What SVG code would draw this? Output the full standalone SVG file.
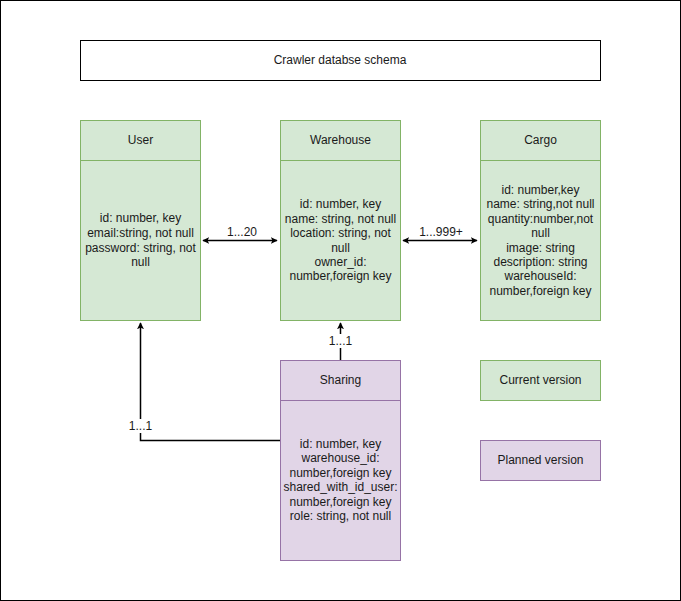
<svg xmlns="http://www.w3.org/2000/svg" width="681" height="601" viewBox="0 0 681 601">
<style>
text{font-family:"Liberation Sans",Arial,sans-serif;font-size:12px;fill:#1a1a1a;text-anchor:middle;dominant-baseline:central}
.g{fill:#d5e8d4;stroke:#82b366;stroke-width:1}
.p{fill:#e1d5e7;stroke:#9673a6;stroke-width:1}
.w{fill:#fff;stroke:#000;stroke-width:1}
.e{fill:none;stroke:#000;stroke-width:1.5}
.lb{fill:#fff}
</style>
<defs>
<marker id="ah" viewBox="0 0 10 10" refX="9" refY="5" markerWidth="7" markerHeight="7" orient="auto-start-reverse" markerUnits="userSpaceOnUse">
<path d="M0,0 L10,5 L0,10 L2.5,5 Z" fill="#000"/>
</marker>
</defs>
<rect x="0.5" y="0.5" width="680" height="600" fill="#fff" stroke="#000"/>
<g id="title">
<rect class="w" x="80.5" y="40.5" width="520" height="40"/>
<text x="340" y="60">Crawler databse schema</text>
</g>
<g id="connectors">
<line class="e" x1="203" y1="240.5" x2="277" y2="240.5" marker-start="url(#ah)" marker-end="url(#ah)"/>
<rect class="lb" x="226" y="225" width="32" height="14"/>
<text x="242" y="232">1...20</text>
<line class="e" x1="403" y1="240.5" x2="477" y2="240.5" marker-start="url(#ah)" marker-end="url(#ah)"/>
<rect class="lb" x="419" y="225" width="44" height="14"/>
<text x="441" y="232">1...999+</text>
<line class="e" x1="340.5" y1="360" x2="340.5" y2="323" marker-end="url(#ah)"/>
<rect class="lb" x="328" y="334" width="26" height="14"/>
<text x="340.5" y="341">1...1</text>
<polyline class="e" points="280,440.5 140.5,440.5 140.5,323" marker-end="url(#ah)"/>
<rect class="lb" x="128" y="419" width="26" height="14"/>
<text x="140.5" y="426">1...1</text>
</g>
<g id="user">
<rect class="g" x="80.5" y="120.5" width="120" height="200"/>
<line x1="80.5" y1="160.5" x2="200.5" y2="160.5" stroke="#82b366"/>
<text x="140.5" y="140">User</text>
<text x="140.5" y="218">id: number, key</text>
<text x="140.5" y="233">email:string, not null</text>
<text x="140.5" y="248">password: string, not</text>
<text x="140.5" y="262">null</text>
</g>
<g id="warehouse">
<rect class="g" x="280.5" y="120.5" width="120" height="200"/>
<line x1="280.5" y1="160.5" x2="400.5" y2="160.5" stroke="#82b366"/>
<text x="340.5" y="140">Warehouse</text>
<text x="340.5" y="204">id: number, key</text>
<text x="340.5" y="219">name: string, not null</text>
<text x="340.5" y="233">location: string, not</text>
<text x="340.5" y="248">null</text>
<text x="340.5" y="262">owner_id:</text>
<text x="340.5" y="276">number,foreign key</text>
</g>
<g id="cargo">
<rect class="g" x="480.5" y="120.5" width="120" height="200"/>
<line x1="480.5" y1="160.5" x2="600.5" y2="160.5" stroke="#82b366"/>
<text x="540.5" y="140">Cargo</text>
<text x="540.5" y="190">id: number,key</text>
<text x="540.5" y="204">name: string,not null</text>
<text x="540.5" y="219">quantity:number,not</text>
<text x="540.5" y="233">null</text>
<text x="540.5" y="248">image: string</text>
<text x="540.5" y="262">description: string</text>
<text x="540.5" y="276">warehouseId:</text>
<text x="540.5" y="291">number,foreign key</text>
</g>
<g id="sharing">
<rect class="p" x="280.5" y="360.5" width="120" height="200"/>
<line x1="280.5" y1="400.5" x2="400.5" y2="400.5" stroke="#9673a6"/>
<text x="340.5" y="380">Sharing</text>
<text x="340.5" y="444">id: number, key</text>
<text x="340.5" y="458">warehouse_id:</text>
<text x="340.5" y="473">number,foreign key</text>
<text x="340.5" y="487">shared_with_id_user:</text>
<text x="340.5" y="502">number,foreign key</text>
<text x="340.5" y="516">role: string, not null</text>
</g>
<g id="legend-current">
<rect class="g" x="480.5" y="360.5" width="120" height="40"/>
<text x="540.5" y="380">Current version</text>
</g>
<g id="legend-planned">
<rect class="p" x="480.5" y="440.5" width="120" height="40"/>
<text x="540.5" y="460">Planned version</text>
</g>
</svg>
